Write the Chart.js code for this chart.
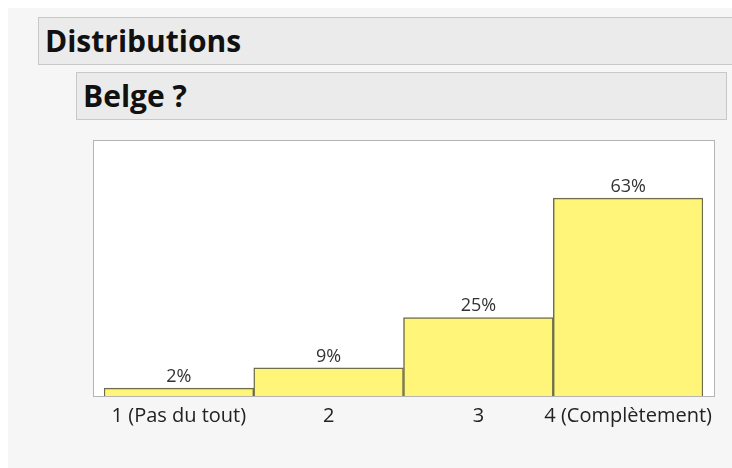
<!DOCTYPE html>
<html>
<head>
<meta charset="utf-8">
<script src="https://cdn.jsdelivr.net/npm/chart.js@4"></script>
<style>
  body { margin: 0; background: #fff; width: 732px; height: 468px; overflow: hidden; position: relative; font-family: "Open Sans", sans-serif; }
  .panel { position: absolute; left: 8px; top: 8px; width: 724px; height: 460px; background: #f6f6f6; }
  .hdr { position: absolute; background: #ebebeb; border: 1px solid #c8c8c8; box-sizing: border-box; font-weight: bold; color: #111; }
  #h1 { left: 38px; top: 17px; width: 700px; height: 48px; font-size: 30px; line-height: 45px; padding-left: 6px; }
  #h2 { left: 76px; top: 72px; width: 651px; height: 48px; font-size: 30px; line-height: 45px; padding-left: 6px; }
  #wrap { position: absolute; left: 88px; top: 135px; width: 644px; height: 304px; }
</style>
</head>
<body>
<div class="panel"></div>
<div class="hdr" id="h1">Distributions</div>
<div class="hdr" id="h2">Belge ?</div>
<div id="wrap"><canvas id="chart"></canvas></div>
<script>
// réponses à la question "Belge ?"
const categories = ["1 (Pas du tout)", "2", "3", "4 (Complètement)"];
const percents = [2.5, 9, 25, 63];
const percentLabels = ["2%", "9%", "25%", "63%"];

// cadre autour de la zone du graphique
const framePlugin = {
    id: "frame",
    beforeDraw(chart) {
        const a = chart.chartArea;
        const ctx = chart.ctx;
        ctx.save();
        ctx.fillStyle = "#ffffff";
        ctx.fillRect(a.left - 11, a.top, a.right - a.left + 22, a.bottom - a.top);
        ctx.strokeStyle = "#b4b4b4";
        ctx.lineWidth = 1;
        ctx.strokeRect(a.left - 11 + 0.5, a.top + 0.5, a.right - a.left + 22, a.bottom - a.top);
        ctx.restore();
    }
};

// étiquettes de pourcentage au-dessus des barres
const labelPlugin = {
    id: "pctLabels",
    afterDatasetsDraw(chart) {
        const ctx = chart.ctx;
        const bars = chart.getDatasetMeta(0).data;
        ctx.save();
        ctx.font = "18px 'Open Sans', sans-serif";
        ctx.fillStyle = "#333";
        ctx.textAlign = "center";
        ctx.textBaseline = "alphabetic";
        bars.forEach((bar, i) => {
            ctx.fillText(percentLabels[i], bar.x, bar.y - 6);
        });
        ctx.restore();
    }
};

const ctx = document.getElementById("chart").getContext("2d");
new Chart(ctx, {
    type: "bar",
    data: {
        labels: categories,
        datasets: [{
            data: percents,
            backgroundColor: "#fff579",
            borderColor: "#6f6d4c",
            borderWidth: 1.5,
            borderSkipped: "bottom",
            barPercentage: 1,
            categoryPercentage: 1
        }]
    },
    options: {
        responsive: true,
        maintainAspectRatio: false,
        animation: false,
        events: [],
        layout: { padding: { left: 16, right: 29, top: 5, bottom: 3 } },
        plugins: { legend: { display: false }, tooltip: { enabled: false } },
        scales: {
            x: {
                grid: { display: false, drawTicks: false },
                border: { display: false },
                ticks: { color: "#222", padding: 8, maxRotation: 0, autoSkip: false,
                         font: { family: "'Open Sans', sans-serif", size: 20 } }
            },
            y: { display: false, min: 0, max: 81.5 }
        }
    },
    plugins: [framePlugin, labelPlugin]
});
</script>
</body>
</html>
